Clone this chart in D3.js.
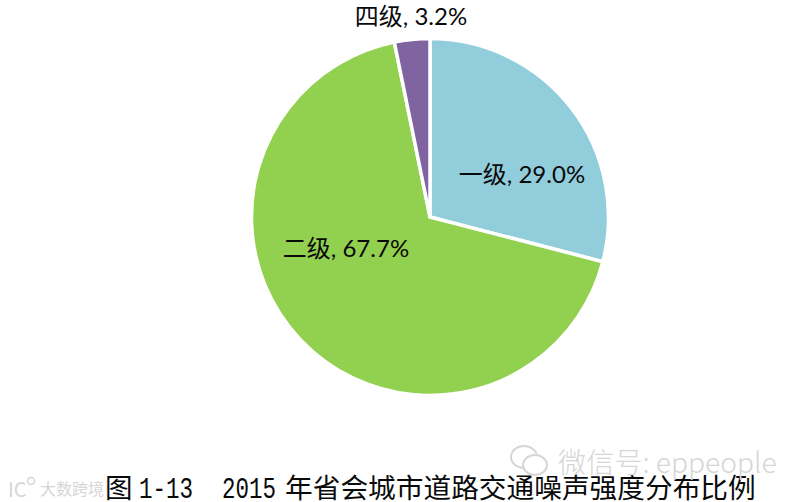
<!DOCTYPE html>
<html><head><meta charset="utf-8">
<script src="https://cdn.jsdelivr.net/npm/d3@7"></script>
<style>html,body{margin:0;padding:0;background:#fff}svg{display:block}</style>
</head><body><svg id="c" width="803" height="502"></svg>
<script>
const categories = ["一级","二级","四级"];
const values = [29.0,67.7,3.2];
const colors = ["#92CDDC","#92D050","#8064A2"];
const labels = ["一级, 29.0%","二级, 67.7%","四级, 3.2%"];
const titleParts = ["图","1-13","2015","年省会城市道路交通噪声强度分布比例"];
const font = "Lato,'Noto Sans CJK SC',sans-serif";
const cjk = "'Noto Sans CJK SC',sans-serif";
const mono = "'Liberation Mono',monospace";
const svg = d3.select("#c");
const g = svg.append("g").attr("transform","translate(430,217)");
const arcs = d3.pie().sort(null)(values);
const arc = d3.arc().innerRadius(0).outerRadius(178.5);
g.selectAll("path").data(arcs).enter().append("path")
  .attr("d",arc).attr("fill",(d,i)=>colors[i]).attr("stroke","#fff").attr("stroke-width",3.5);
const labelPos = [[522,173],[346,247],[411,15]];
svg.selectAll("text.l").data(labels).enter().append("text").attr("class","l")
  .attr("x",(d,i)=>labelPos[i][0]).attr("y",(d,i)=>labelPos[i][1])
  .attr("text-anchor","middle").attr("dominant-baseline","central")
  .attr("font-family",font).attr("font-size",24).attr("fill","#0a0a0a").text(d=>d);
const titleX = [105,139,222,285];
const titleFont = [cjk,mono,mono,cjk];
const titleSize = [27.5,29,29,27.7];
const titleLen = [null,54,54,null];
svg.selectAll("text.t").data(titleParts).enter().append("text").attr("class","t")
  .attr("x",(d,i)=>titleX[i]).attr("y",498)
  .attr("font-family",(d,i)=>titleFont[i]).attr("font-size",(d,i)=>titleSize[i])
  .attr("textLength",(d,i)=>titleLen[i]).attr("lengthAdjust",(d,i)=>titleLen[i]?"spacingAndGlyphs":null)
  .attr("fill","#0a0a0a").text(d=>d);
const wm = "#d6d6d6";
svg.append("text").attr("x",40).attr("y",488).attr("dominant-baseline","central")
  .attr("font-family",cjk).attr("font-size",16).attr("fill",wm).text("大数跨境");
svg.append("text").attr("x",558).attr("y",460).attr("dominant-baseline","central")
  .attr("font-family",cjk).attr("font-weight",300).attr("font-size",28.2).attr("fill",wm).text("微信号: eppeople");
const bubbles = [[524,457,13,11],[535,465,12,10]];
svg.selectAll("ellipse.b").data(bubbles).enter().append("ellipse").attr("class","b")
  .attr("cx",d=>d[0]).attr("cy",d=>d[1]).attr("rx",d=>d[2]).attr("ry",d=>d[3])
  .attr("fill","#fff").attr("stroke",wm).attr("stroke-width",2);
svg.append("text").attr("x",8).attr("y",488).attr("dominant-baseline","central")
  .attr("font-family",cjk).attr("font-size",20).attr("fill",wm).text("IC");
svg.append("circle").attr("cx",31).attr("cy",481).attr("r",3.5).attr("fill","none").attr("stroke",wm).attr("stroke-width",1.5);
</script></body></html>
